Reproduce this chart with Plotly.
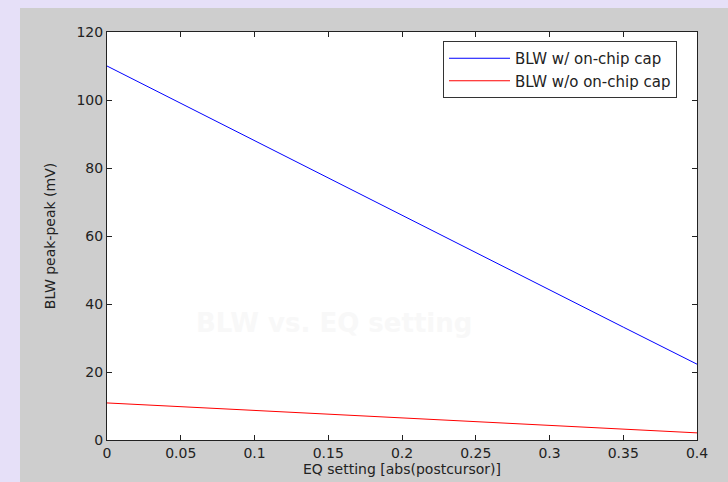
import plotly.graph_objects as go

eq_setting = [0, 0.05, 0.1, 0.15, 0.2, 0.25, 0.3, 0.35, 0.4]
blw_with_cap = [110, 99, 88, 77, 66, 55, 44.2, 33.2, 22.3]
blw_without_cap = [10.9, 9.8, 8.7, 7.6, 6.5, 5.4, 4.3, 3.2, 2.1]
x_ticks = [0, 0.05, 0.1, 0.15, 0.2, 0.25, 0.3, 0.35, 0.4]
x_tick_labels = ["0", "0.05", "0.1", "0.15", "0.2", "0.25", "0.3", "0.35", "0.4"]
y_ticks = [0, 20, 40, 60, 80, 100, 120]

W, H = 728, 482
L, R, T, B = 107, 31, 32, 42
pw, ph = W - L - R, H - T - B

def px_x(p):
    return (p - L) / pw

def px_y(p):
    return (H - B - p) / ph

fig = go.Figure()
fig.add_trace(go.Scatter(x=eq_setting, y=blw_with_cap, mode="lines",
                         line=dict(color="#0000ff", width=1), name="BLW w/ on-chip cap"))
fig.add_trace(go.Scatter(x=eq_setting, y=blw_without_cap, mode="lines",
                         line=dict(color="#ff0000", width=1), name="BLW w/o on-chip cap"))

font_family = "DejaVu Sans, sans-serif"
fig.update_layout(
    width=W, height=H,
    margin=dict(l=L, r=R, t=T, b=B),
    paper_bgcolor="#e6e0f8",
    plot_bgcolor="#ffffff",
    font=dict(family=font_family, size=14, color="#222222"),
    showlegend=True,
    legend=dict(x=px_x(443), y=px_y(41), xanchor="left", yanchor="top",
                bgcolor="#ffffff", bordercolor="#333333", borderwidth=1,
                itemwidth=61,
                font=dict(size=15, color="#222222"), tracegroupgap=0),
    shapes=[dict(type="rect", xref="paper", yref="paper", layer="below",
                 x0=px_x(20), x1=px_x(W + 2), y0=px_y(H + 2), y1=px_y(8),
                 fillcolor="#cecece", line=dict(width=0)),
            dict(type="rect", xref="paper", yref="paper", layer="below",
                 x0=0, x1=1, y0=0, y1=1,
                 fillcolor="#ffffff", line=dict(width=0))],
    annotations=[dict(text="<b>BLW vs. EQ setting</b>", xref="paper", yref="paper",
                      x=px_x(334), y=px_y(323), xanchor="center", yanchor="middle",
                      showarrow=False,
                      font=dict(size=26, color="#f8f8f8", family="DejaVu Sans, sans-serif"))],
)
fig.update_xaxes(range=[0, 0.4], tickvals=x_ticks, ticktext=x_tick_labels, automargin=False,
                 showgrid=False, zeroline=False, showline=True, linecolor="#222222", linewidth=1,
                 mirror="ticks", ticks="inside", ticklen=5, tickcolor="#222222",
                 title=dict(text="EQ setting [abs(postcursor)]", standoff=1, font=dict(size=14)))
fig.update_yaxes(range=[0, 120], tickvals=y_ticks, automargin=False,
                 showgrid=False, zeroline=False, showline=True, linecolor="#222222", linewidth=1,
                 mirror="ticks", ticks="inside", ticklen=5, tickcolor="#222222",
                 title=dict(text="BLW peak-peak (mV)", standoff=17, font=dict(size=14)))

fig.write_html("out.html", config={"displayModeBar": False},
               post_script="document.body.style.margin='0';document.body.style.background='#e6e0f8';")
